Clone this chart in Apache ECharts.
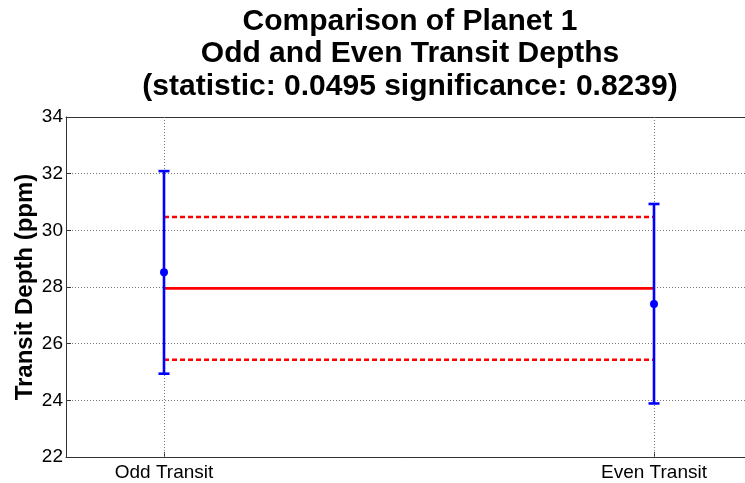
<!DOCTYPE html>
<html>
<head>
<meta charset="utf-8">
<script src="https://cdn.jsdelivr.net/npm/echarts@6/dist/echarts.min.js"></script>
<style>
html,body{margin:0;padding:0;background:#fff;}
#chart{width:745px;height:483px;}
</style>
</head>
<body>
<div id="chart"></div>
<script>
// ---- data ----
const categories = ['Odd Transit', 'Even Transit'];
const categoryX = [1, 2];
const depthMean = [28.52, 27.40];
const depthUpper = [32.09, 30.93];
const depthLower = [24.94, 23.89];
const fitMean = 27.95;
const fitUpper = 30.47;
const fitLower = 25.43;
const yTicks = [22, 24, 26, 28, 30, 32, 34];
const titleLines = ['Comparison of Planet 1', 'Odd and Even Transit Depths', '(statistic: 0.0495 significance: 0.8239)'];

const FONT = '"Liberation Sans", Arial, Helvetica, sans-serif';
const errData = categoryX.map((x, i) => [x, depthLower[i], depthUpper[i], depthMean[i]]);
const lineData = v => [[categoryX[0], v], [categoryX[categoryX.length - 1], v]];

const chart = echarts.init(document.getElementById('chart'), null, {renderer: 'canvas'});
chart.setOption({
  animation: false,
  backgroundColor: '#ffffff',
  title: {
    text: titleLines.join('\n'),
    left: 405,
    top: 0,
    textAlign: 'center',
    textStyle: {fontFamily: FONT, fontSize: 30, fontWeight: 'bold', color: '#000', lineHeight: 32.5}
  },
  grid: {
    left: 66, top: 117, width: 686, height: 340,
    outerBoundsMode: 'none',
    containLabel: false,
    show: false
  },
  xAxis: [{
    type: 'value',
    min: 0.8, max: 2.2,
    axisLine: {show: true, onZero: false, lineStyle: {color: '#333', width: 1}},
    axisTick: {show: true, inside: true, length: 5, customValues: categoryX, lineStyle: {color: '#333'}},
    axisLabel: {
      customValues: categoryX,
      margin: 6,
      fontFamily: FONT, fontSize: 19, color: '#000',
      formatter: v => {
        const i = categoryX.findIndex(c => Math.abs(c - v) < 1e-6);
        return i >= 0 ? categories[i] : '';
      }
    },
    splitLine: {show: false}
  }, {
    type: 'value',
    position: 'top',
    min: 0.8, max: 2.2,
    axisLine: {show: true, onZero: false, lineStyle: {color: '#333', width: 1}},
    axisTick: {show: false},
    axisLabel: {show: false},
    splitLine: {show: false}
  }],
  yAxis: {
    type: 'value',
    min: yTicks[0], max: yTicks[yTicks.length - 1], interval: 2,
    name: 'Transit Depth (ppm)',
    nameLocation: 'middle',
    nameRotate: 90,
    nameGap: 29,
    nameMoveOverlap: false,
    nameTextStyle: {fontFamily: FONT, fontSize: 24, fontWeight: 'bold', color: '#000'},
    axisLine: {show: true, lineStyle: {color: '#333', width: 1}},
    axisTick: {show: true, inside: true, length: 5, lineStyle: {color: '#333'}},
    axisLabel: {margin: 3, fontFamily: FONT, fontSize: 19, color: '#000'},
    splitLine: {show: true, lineStyle: {color: '#777', type: [1, 2], width: 1}}
  },
  series: [
    {
      type: 'line',
      data: lineData(fitMean),
      symbol: 'none',
      lineStyle: {color: '#ff0000', width: 2.6},
      z: 3,
      markLine: {
        silent: true,
        symbol: 'none',
        label: {show: false},
        lineStyle: {color: '#777', type: [1, 2], width: 1},
        data: categoryX.map(x => ({xAxis: x}))
      }
    },
    {
      type: 'line',
      data: lineData(fitUpper),
      symbol: 'none',
      lineStyle: {color: '#ff0000', width: 2.6, type: [5, 3]},
      z: 3
    },
    {
      type: 'line',
      data: lineData(fitLower),
      symbol: 'none',
      lineStyle: {color: '#ff0000', width: 2.6, type: [5, 3]},
      z: 3
    },
    {
      type: 'custom',
      z: 5,
      data: errData,
      encode: {x: 0, y: [1, 2, 3]},
      renderItem: function (params, api) {
        const x = api.value(0);
        const lo = api.coord([x, api.value(1)]);
        const hi = api.coord([x, api.value(2)]);
        const m = api.coord([x, api.value(3)]);
        const cap = 5.5;
        const style = {stroke: '#0000ff', lineWidth: 2.6, fill: null};
        return {
          type: 'group',
          children: [
            {type: 'line', shape: {x1: hi[0], y1: hi[1], x2: lo[0], y2: lo[1]}, style: style},
            {type: 'line', shape: {x1: hi[0] - cap, y1: hi[1], x2: hi[0] + cap, y2: hi[1]}, style: style},
            {type: 'line', shape: {x1: lo[0] - cap, y1: lo[1], x2: lo[0] + cap, y2: lo[1]}, style: style},
            {type: 'circle', shape: {cx: m[0], cy: m[1], r: 4}, style: {fill: '#0000ff'}}
          ]
        };
      }
    }
  ]
});
</script>
</body>
</html>
